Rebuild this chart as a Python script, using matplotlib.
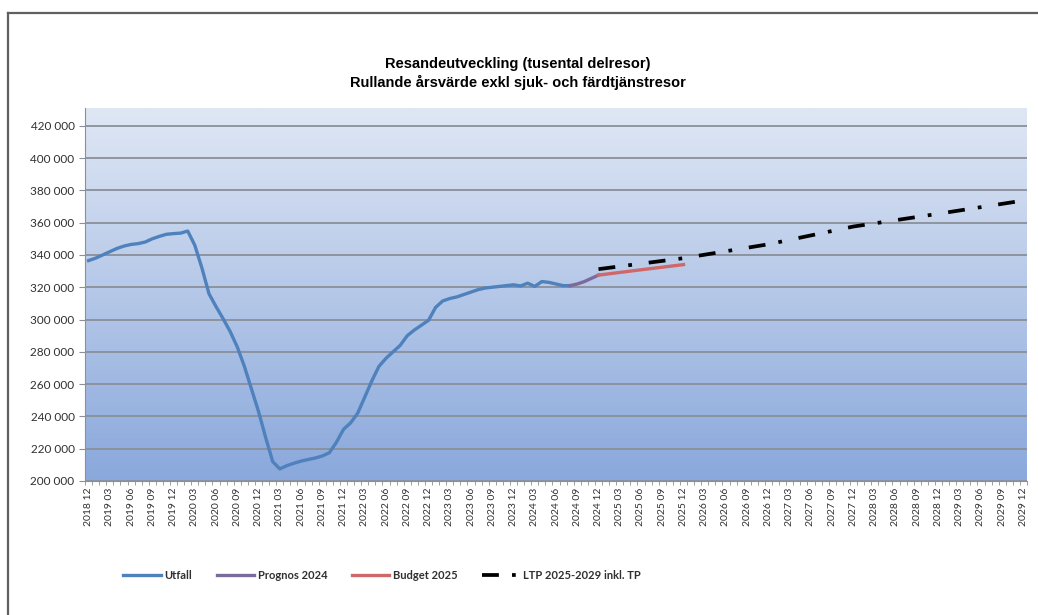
import numpy as np
import matplotlib
matplotlib.use("Agg")
import matplotlib.pyplot as plt
from matplotlib.lines import Line2D
from matplotlib.colors import LinearSegmentedColormap
from matplotlib.ticker import FuncFormatter

# month categories 2018 12 .. 2029 12
years = [2018] + [y for y in range(2019, 2030) for _ in range(12)]
months = [12] + [m for _ in range(2019, 2030) for m in range(1, 13)]
labels = [f"{y} {m:02d}" for y, m in zip(years, months)]

# Utfall 2018 12 - 2024 08
utfall = [336500, 338000, 340000, 342000, 344000, 345500, 346500, 347000, 348000,
          350000, 351500, 352800, 353200, 353500, 354800, 346000, 332000, 316000,
          308000, 300500, 292500, 283000, 271000, 257000, 243000, 227000, 212000,
          207500, 209500, 211000, 212300, 213300, 214200, 215500, 217500, 224000,
          232000, 236000, 242000, 252000, 262000, 271000, 276000, 280000, 284000,
          290000, 293500, 296500, 299500, 307500, 311500, 313000, 314000, 315500,
          317000, 318500, 319500, 320000, 320500, 321000, 321500, 320800, 322500,
          320500, 323500, 323000, 322000, 321000, 321000]
utfall_idx = list(range(0, 69))

# Prognos 2024 (2024 08 - 2024 12)
prognos_idx = [68, 69, 70, 71, 72]
prognos = [321000, 322000, 323500, 325500, 327500]

# Budget 2025 (2024 12 - 2025 12)
budget_idx = [72, 78, 84]
budget = [327500, 330800, 334000]

# LTP 2025-2029 inkl. TP (december values)
ltp_idx = [72, 84, 96, 108, 120, 132]
ltp = [331200, 338000, 346600, 357600, 365500, 373700]

fig = plt.figure(figsize=(10.38, 6.15), dpi=100)
ax = fig.add_axes([0.0819, 0.2179, 0.9075, 0.6065])

ax.set_xlim(-0.5, 132.5)
ax.set_ylim(200000, 431000)

# gradient background
cmap = LinearSegmentedColormap.from_list("bg", ["#8aa8dc", "#dfe7f4"])
grad = np.linspace(0, 1, 256).reshape(-1, 1)
ax.imshow(grad, cmap=cmap, aspect="auto", origin="lower",
          extent=[-0.5, 132.5, 200000, 431000], zorder=0)

ax.set_yticks(range(200000, 420001, 20000))
ax.yaxis.set_major_formatter(FuncFormatter(lambda v, p: f"{int(v):,}".replace(",", " ")))
ax.grid(axis="y", color="#8a8f99", linewidth=1.3, zorder=1)
ax.set_axisbelow(False)

ax.plot(utfall_idx, utfall, color="#4f81bd", linewidth=2.4, zorder=3, label="Utfall")
ax.plot(prognos_idx, prognos, color="#7b6a9e", linewidth=2.4, zorder=3, label="Prognos 2024")
ax.plot(budget_idx, budget, color="#d0686a", linewidth=2.4, zorder=3, label="Budget 2025")
ax.plot(ltp_idx, ltp, color="black", linewidth=2.7, dashes=(4.5, 3.5, 1, 4.5), zorder=4,
        label="LTP 2025-2029 inkl. TP")

ax.set_xticks(range(0, 133, 3))
ax.set_xticklabels(labels[::3], rotation=90, fontsize=7.5, family="Lato", color="#303030")
ax.set_xticks(np.arange(-0.5, 133, 1), minor=True)
ax.tick_params(axis="x", which="major", length=0, pad=5)
ax.tick_params(axis="x", which="minor", length=3, color="#8a8f99")
ax.tick_params(axis="y", length=4, color="#8a8f99", labelsize=8.5, labelcolor="#303030")
for t in ax.get_yticklabels():
    t.set_family("Lato")

for s in ["top", "right"]:
    ax.spines[s].set_visible(False)
ax.spines["left"].set_color("#8a8f99")
ax.spines["bottom"].set_color("#8a8f99")

fig.text(0.499, 0.896, "Resandeutveckling (tusental delresor)", ha="center", va="center",
         fontsize=10.5, fontweight="bold", family="Liberation Sans")
fig.text(0.499, 0.866, "Rullande årsvärde exkl sjuk- och färdtjänstresor", ha="center",
         va="center", fontsize=10.5, fontweight="bold", family="Liberation Sans")

leg = fig.legend(loc="center", bbox_to_anchor=(0.368, 0.065), ncol=4, frameon=False,
                 handlelength=3.4, columnspacing=2.2, handletextpad=0.3,
                 prop={"family": "Lato", "weight": "bold", "size": 8})
for t in leg.get_texts():
    t.set_color("#303030")

# outer chart frame
fig.add_artist(Line2D([0.0077, 1.0], [0.979, 0.979], transform=fig.transFigure,
                      color="#606060", linewidth=1.6))
fig.add_artist(Line2D([0.0077, 0.0077], [0.0, 0.979], transform=fig.transFigure,
                      color="#606060", linewidth=1.6))

fig.savefig("out.png", dpi=100)
